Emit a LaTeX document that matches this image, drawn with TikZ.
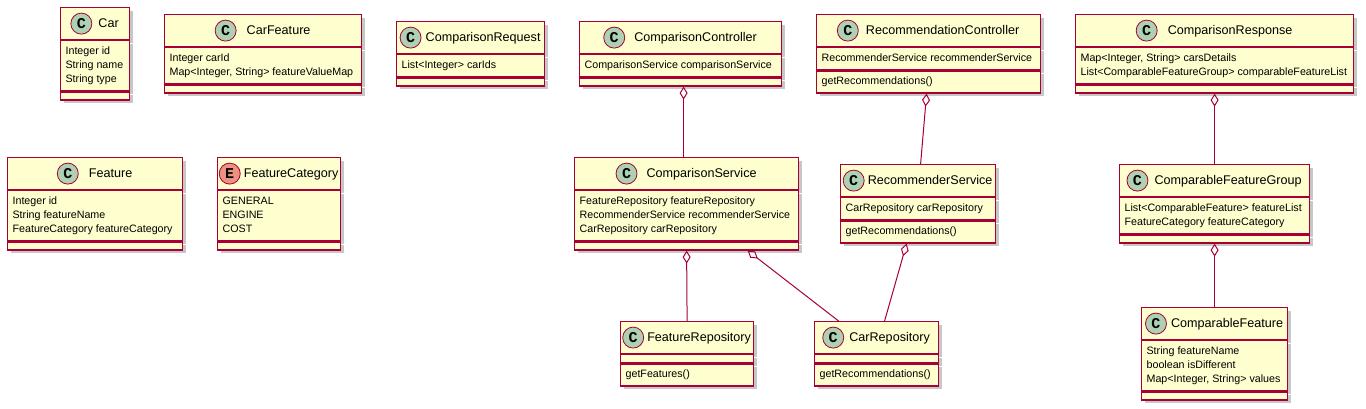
\documentclass[tikz,border=0pt]{standalone}
\usepackage{fontspec}
\setmainfont{Liberation Sans}
\newfontfamily\iconfont{Liberation Mono}
\usetikzlibrary{positioning,shadows,arrows.meta}

\definecolor{umlborder}{HTML}{A80036}
\definecolor{umlfill}{HTML}{FEFECE}
\definecolor{iconC}{HTML}{ADD1B2}
\definecolor{iconE}{HTML}{EB937F}

\tikzset{
  umlshadow/.style={drop shadow={shadow xshift=3pt, shadow yshift=-3pt, fill=black, opacity=0.22}},
  classhead/.style={draw=umlborder, fill=umlfill, line width=1.2pt, minimum height=32pt,
    inner sep=0pt, anchor=north west, umlshadow},
  compartment/.style={draw=umlborder, fill=umlfill, line width=1.2pt, inner xsep=5pt,
    inner ysep=4pt, minimum height=8pt, anchor=north west,
    font=\fontsize{10.7}{14}\selectfont, umlshadow},
  classname/.style={inner sep=0pt, text height=9.5pt, text depth=1.1pt,
    font=\fontsize{12.6}{14}\selectfont},
  classicon/.style={circle, draw=umlborder, line width=0.8pt, minimum size=21pt,
    inner sep=0pt, font=\iconfont\bfseries\fontsize{15}{15}\selectfont},
  aggregation/.style={draw=umlborder, line width=1pt, {Diamond[open,length=13pt,width=8pt]}-},
}

% members of one compartment, one per row
\newcommand{\members}[1]{\begin{tabular}{@{}l@{}}#1\end{tabular}}

% #1 name, #2 top left, #3 width, #4 gap icon/title, #5 kind (C or E), #6 title, #7 fields, #8 methods
\newcommand{\umlclass}[8]{%
  \pgfmathsetmacro\membwidth{#3-10}
  \node[classhead, minimum width=#3pt] (#1) at #2 {};
  \node[compartment, minimum width=#3pt] (#1 fields) at (#1.south west)
    {\makebox[\membwidth pt][l]{#7}};
  \node[compartment, minimum width=#3pt] (#1 methods) at (#1 fields.south west)
    {\makebox[\membwidth pt][l]{#8}};
  \node[classname, xshift={(21+#4)/2}] (#1 name) at (#1.center) {#6};
  \node[classicon, fill=icon#5, left=#4pt of #1 name] (#1 icon) {#5};
}

\begin{document}
\begin{tikzpicture}[x=1pt,y=-1pt]
  \useasboundingbox (0,0) rectangle (1366,409);

  % model classes
  \umlclass{car}{(60,7)}{69}{6}{C}{Car}
    {\members{Integer id\\String name\\String type}}{}
  \umlclass{carfeature}{(164,14)}{197}{10}{C}{CarFeature}
    {\members{Integer carId\\Map<Integer, String> featureValueMap}}{}
  \umlclass{compreq}{(396,21)}{148}{4}{C}{ComparisonRequest}
    {\members{List<Integer> carIds}}{}
  \umlclass{feature}{(7,157)}{175}{10}{C}{Feature}
    {\members{Integer id\\String featureName\\FeatureCategory featureCategory}}{}
  \umlclass{featcat}{(217,157)}{123}{3}{E}{FeatureCategory}
    {\members{GENERAL\\ENGINE\\COST}}{}

  % controllers and services
  \umlclass{compctrl}{(579,21)}{202}{9}{C}{ComparisonController}
    {\members{ComparisonService comparisonService}}{}
  \umlclass{recctrl}{(816,14)}{224}{7}{C}{RecommendationController}
    {\members{RecommenderService recommenderService}}{\members{getRecommendations()}}
  \umlclass{compsvc}{(574,157)}{224}{9}{C}{ComparisonService}
    {\members{FeatureRepository featureRepository\\RecommenderService recommenderService\\CarRepository carRepository}}{}
  \umlclass{recsvc}{(840,164)}{155}{3}{C}{RecommenderService}
    {\members{CarRepository carRepository}}{\members{getRecommendations()}}
  \umlclass{featrepo}{(620,321)}{133}{3}{C}{FeatureRepository}
    {}{\members{getFeatures()}}
  \umlclass{carrepo}{(814,321)}{124}{5}{C}{CarRepository}
    {}{\members{getRecommendations()}}

  % response classes
  \umlclass{compresp}{(1075,14)}{278}{10}{C}{ComparisonResponse}
    {\members{Map<Integer, String> carsDetails\\List<ComparableFeatureGroup> comparableFeatureList}}{}
  \umlclass{cfgroup}{(1119,164)}{190}{6}{C}{ComparableFeatureGroup}
    {\members{List<ComparableFeature> featureList\\FeatureCategory featureCategory}}{}
  \umlclass{cfeature}{(1141,307)}{146}{4}{C}{ComparableFeature}
    {\members{String featureName\\boolean isDifferent\\Map<Integer, String> values}}{}

  % aggregations
  \draw[aggregation] ([xshift=3pt]compctrl methods.south) -- ([xshift=-3pt]compsvc.north);
  \draw[aggregation] ([xshift=-2pt]recctrl methods.south) -- ([xshift=2.5pt]recsvc.north);
  \draw[aggregation] (compsvc methods.south) -- (featrepo.north);
  \draw[aggregation] ([xshift=61pt]compsvc methods.south) -- ([xshift=-38pt]carrepo.north);
  \draw[aggregation] ([xshift=-11.5pt]recsvc methods.south) -- ([xshift=8pt]carrepo.north);
  \draw[aggregation] (compresp methods.south) -- (cfgroup.north);
  \draw[aggregation] (cfgroup methods.south) -- (cfeature.north);
\end{tikzpicture}
\end{document}
